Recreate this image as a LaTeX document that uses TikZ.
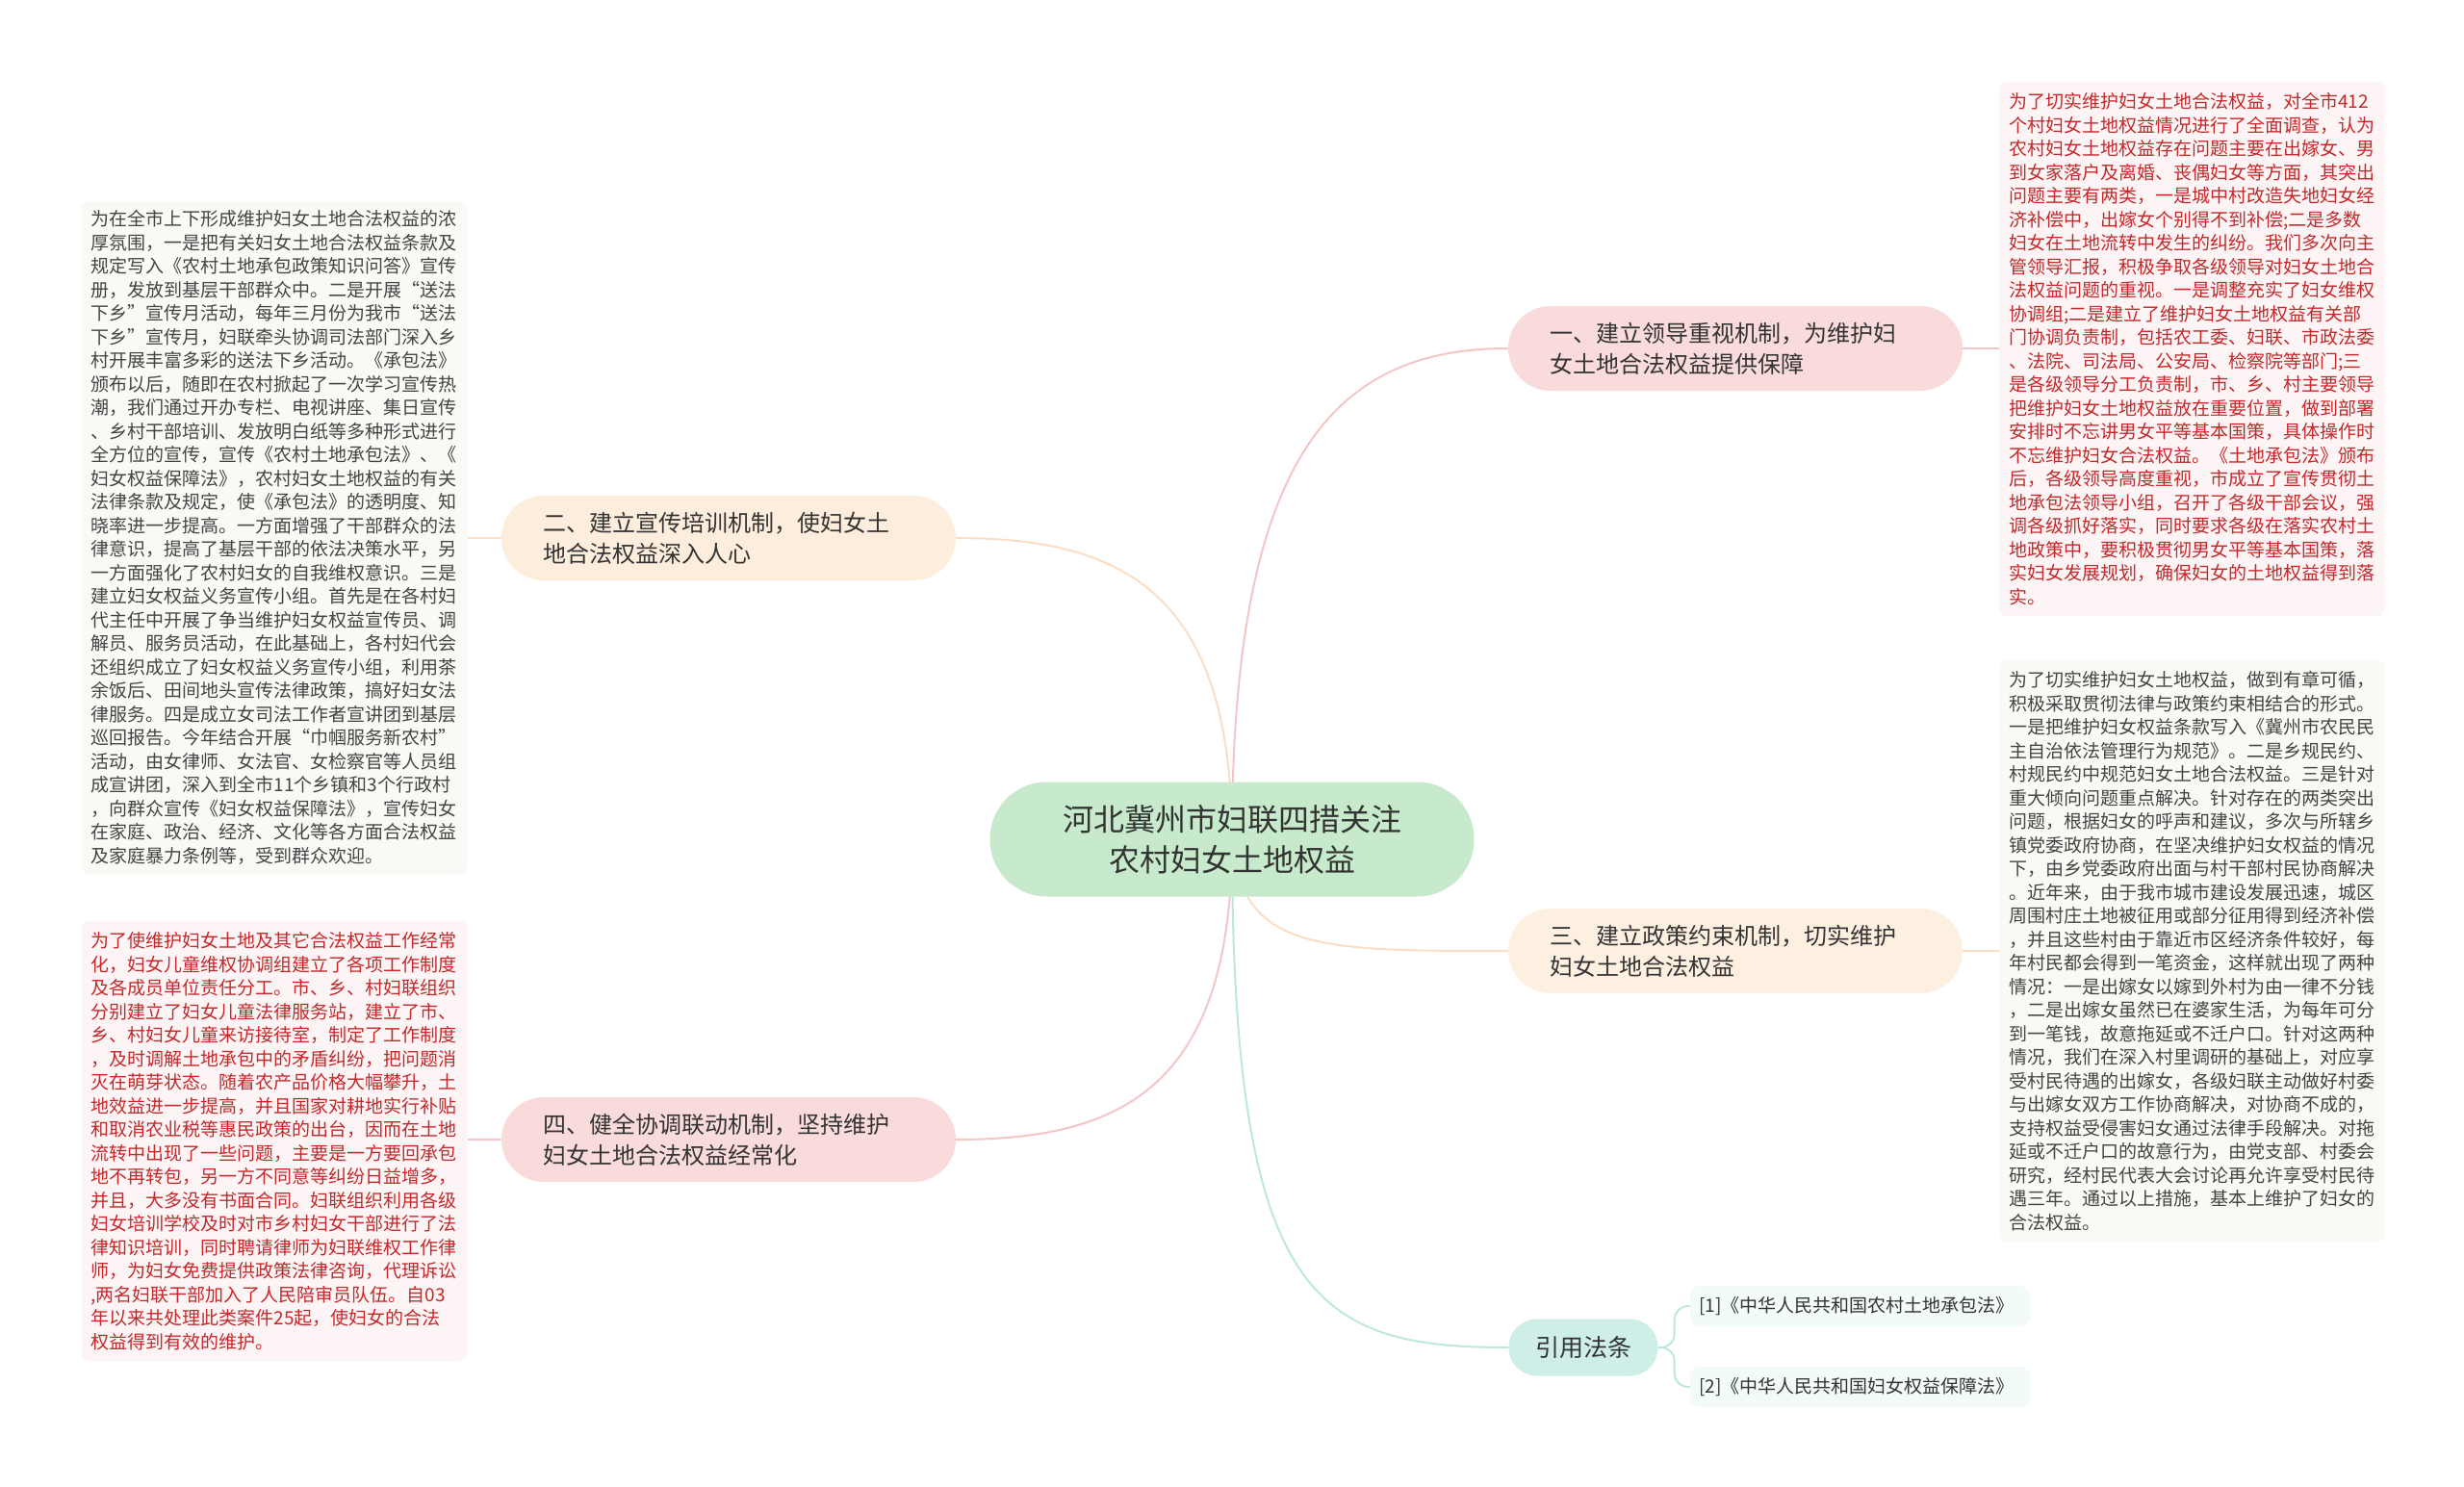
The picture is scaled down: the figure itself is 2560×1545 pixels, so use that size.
\documentclass[tikz,border=0pt]{standalone}
\usepackage{fontspec}
\setmainfont{Noto Sans CJK SC}
\usetikzlibrary{backgrounds}
\definecolor{txt}{HTML}{333333}
\definecolor{centerfill}{HTML}{C6EACB}
\definecolor{pinkfill}{HTML}{FADBDB}
\definecolor{orangefill}{HTML}{FDEDDC}
\definecolor{orangefillb}{HTML}{FDF0E1}
\definecolor{tealfill}{HTML}{CFEEE7}
\definecolor{pinkline}{HTML}{F4C6C7}
\definecolor{orangeline}{HTML}{FADFC6}
\definecolor{tealline}{HTML}{BEE8DF}
\definecolor{redbg}{HTML}{FDF5F5}
\definecolor{graybg}{HTML}{FAF9F6}
\definecolor{redtxt}{HTML}{C4282B}
\definecolor{graytxt}{HTML}{444444}
\definecolor{refbg}{HTML}{F3FAFA}
\tikzset{
  centernode/.style={rectangle, rounded corners=59pt, fill=centerfill, text=txt,
    minimum width=503pt, minimum height=119pt, inner sep=0pt, align=center,
    font=\fontsize{32pt}{42pt}\selectfont},
  branch/.style={rectangle, rounded corners=44pt, text=txt,
    minimum width=472pt, minimum height=88pt, inner sep=0pt, text width=386pt, align=left,
    font=\fontsize{24pt}{32pt}\selectfont},
  refnode/.style={rectangle, rounded corners=29pt, fill=tealfill, text=txt,
    minimum width=155pt, minimum height=59pt, inner sep=0pt,
    font=\fontsize{25pt}{30pt}\selectfont},
  lawbox/.style={rectangle, rounded corners=10pt, fill=refbg, text=txt, anchor=west,
    minimum width=353pt, minimum height=42pt, inner sep=0pt, text width=335pt, align=left,
    font=\fontsize{19pt}{23pt}\selectfont},
  detail/.style={rectangle, rounded corners=8pt, inner sep=0pt, minimum width=401pt,
    text width=381pt, align=left, font=\fontsize{19pt}{24.5pt}\selectfont},
  redbox/.style={detail, fill=redbg, text=redtxt},
  graybox/.style={detail, fill=graybg, text=graytxt},
  conn/.style={line width=2pt},
}
\begin{document}
\begin{tikzpicture}[x=1pt, y=-1pt]
\useasboundingbox (0,0) rectangle (2560,1545);

% central topic
\node[centernode] (c) at (1280,872) {河北冀州市妇联四措关注\\农村妇女土地权益};

% branches
\node[branch, fill=pinkfill] (b1) at (1803,362) {一、建立领导重视机制，为维护妇\\女土地合法权益提供保障};
\node[branch, fill=orangefill] (b2) at (757,559) {二、建立宣传培训机制，使妇女土\\地合法权益深入人心};
\node[branch, fill=orangefillb] (b3) at (1803,988) {三、建立政策约束机制，切实维护\\妇女土地合法权益};
\node[branch, fill=pinkfill] (b4) at (757,1184) {四、健全协调联动机制，坚持维护\\妇女土地合法权益经常化};
\node[refnode] (ref) at (1645,1400) {引用法条};

% detail boxes
\node[redbox, minimum height=555pt] (d1) at (2277.5,362.5) {为了切实维护妇女土地合法权益，对全市412\\个村妇女土地权益情况进行了全面调查，认为\\农村妇女土地权益存在问题主要在出嫁女、男\\到女家落户及离婚、丧偶妇女等方面，其突出\\问题主要有两类，一是城中村改造失地妇女经\\济补偿中，出嫁女个别得不到补偿;二是多数\\妇女在土地流转中发生的纠纷。我们多次向主\\管领导汇报，积极争取各级领导对妇女土地合\\法权益问题的重视。一是调整充实了妇女维权\\协调组;二是建立了维护妇女土地权益有关部\\门协调负责制，包括农工委、妇联、市政法委\\、法院、司法局、公安局、检察院等部门;三\\是各级领导分工负责制，市、乡、村主要领导\\把维护妇女土地权益放在重要位置，做到部署\\安排时不忘讲男女平等基本国策，具体操作时\\不忘维护妇女合法权益。《土地承包法》颁布\\后，各级领导高度重视，市成立了宣传贯彻土\\地承包法领导小组，召开了各级干部会议，强\\调各级抓好落实，同时要求各级在落实农村土\\地政策中，要积极贯彻男女平等基本国策，落\\实妇女发展规划，确保妇女的土地权益得到落\\实。};

\node[graybox, minimum height=699pt] (d2) at (285,558.5) {为在全市上下形成维护妇女土地合法权益的浓\\厚氛围，一是把有关妇女土地合法权益条款及\\规定写入《农村土地承包政策知识问答》宣传\\册，发放到基层干部群众中。二是开展“送法\\下乡”宣传月活动，每年三月份为我市“送法\\下乡”宣传月，妇联牵头协调司法部门深入乡\\村开展丰富多彩的送法下乡活动。《承包法》\\颁布以后，随即在农村掀起了一次学习宣传热\\潮，我们通过开办专栏、电视讲座、集日宣传\\、乡村干部培训、发放明白纸等多种形式进行\\全方位的宣传，宣传《农村土地承包法》、《\\妇女权益保障法》，农村妇女土地权益的有关\\法律条款及规定，使《承包法》的透明度、知\\晓率进一步提高。一方面增强了干部群众的法\\律意识，提高了基层干部的依法决策水平，另\\一方面强化了农村妇女的自我维权意识。三是\\建立妇女权益义务宣传小组。首先是在各村妇\\代主任中开展了争当维护妇女权益宣传员、调\\解员、服务员活动，在此基础上，各村妇代会\\还组织成立了妇女权益义务宣传小组，利用茶\\余饭后、田间地头宣传法律政策，搞好妇女法\\律服务。四是成立女司法工作者宣讲团到基层\\巡回报告。今年结合开展“巾帼服务新农村”\\活动，由女律师、女法官、女检察官等人员组\\成宣讲团，深入到全市11个乡镇和3个行政村\\，向群众宣传《妇女权益保障法》，宣传妇女\\在家庭、政治、经济、文化等各方面合法权益\\及家庭暴力条例等，受到群众欢迎。};

\node[graybox, minimum height=604pt] (d3) at (2277.5,988) {为了切实维护妇女土地权益，做到有章可循，\\积极采取贯彻法律与政策约束相结合的形式。\\一是把维护妇女权益条款写入《冀州市农民民\\主自治依法管理行为规范》。二是乡规民约、\\村规民约中规范妇女土地合法权益。三是针对\\重大倾向问题重点解决。针对存在的两类突出\\问题，根据妇女的呼声和建议，多次与所辖乡\\镇党委政府协商，在坚决维护妇女权益的情况\\下，由乡党委政府出面与村干部村民协商解决\\。近年来，由于我市城市建设发展迅速，城区\\周围村庄土地被征用或部分征用得到经济补偿\\，并且这些村由于靠近市区经济条件较好，每\\年村民都会得到一笔资金，这样就出现了两种\\情况：一是出嫁女以嫁到外村为由一律不分钱\\，二是出嫁女虽然已在婆家生活，为每年可分\\到一笔钱，故意拖延或不迁户口。针对这两种\\情况，我们在深入村里调研的基础上，对应享\\受村民待遇的出嫁女，各级妇联主动做好村委\\与出嫁女双方工作协商解决，对协商不成的，\\支持权益受侵害妇女通过法律手段解决。对拖\\延或不迁户口的故意行为，由党支部、村委会\\研究，经村民代表大会讨论再允许享受村民待\\遇三年。通过以上措施，基本上维护了妇女的\\合法权益。};

\node[redbox, minimum height=457pt] (d4) at (285,1185.5) {为了使维护妇女土地及其它合法权益工作经常\\化，妇女儿童维权协调组建立了各项工作制度\\及各成员单位责任分工。市、乡、村妇联组织\\分别建立了妇女儿童法律服务站，建立了市、\\乡、村妇女儿童来访接待室，制定了工作制度\\，及时调解土地承包中的矛盾纠纷，把问题消\\灭在萌芽状态。随着农产品价格大幅攀升，土\\地效益进一步提高，并且国家对耕地实行补贴\\和取消农业税等惠民政策的出台，因而在土地\\流转中出现了一些问题，主要是一方要回承包\\地不再转包，另一方不同意等纠纷日益增多，\\并且，大多没有书面合同。妇联组织利用各级\\妇女培训学校及时对市乡村妇女干部进行了法\\律知识培训，同时聘请律师为妇联维权工作律\\师，为妇女免费提供政策法律咨询，代理诉讼\\,两名妇联干部加入了人民陪审员队伍。自03\\年以来共处理此类案件25起，使妇女的合法\\权益得到有效的维护。};

% law references
\node[lawbox] (r1) at (1756,1357) {[1]《中华人民共和国农村土地承包法》};
\node[lawbox] (r2) at (1756,1441) {[2]《中华人民共和国妇女权益保障法》};

% background and connectors
\begin{pgfonlayer}{background}
\fill[white] (0,0) rectangle (2560,1545);
\draw[conn, pinkline] (c.center) .. controls +(0,-400) and +(-180,0) .. (b1.west);
\draw[conn, orangeline] (c.center) .. controls +(0,-260) and +(170,0) .. (b2.east);
\draw[conn, orangeline] (c.center) .. controls +(10,116) and +(-200,0) .. (b3.west);
\draw[conn, pinkline] (c.center) .. controls +(0,260) and +(170,0) .. (b4.east);
\draw[conn, tealline] (c.center) .. controls +(0,480) and +(-200,0) .. (ref.west);
\draw[conn, pinkline] (b1.east) -- (b1.east -| d1.west);
\draw[conn, orangeline] (b2.west) -- (b2.west -| d2.east);
\draw[conn, orangeline] (b3.east) -- (b3.east -| d3.west);
\draw[conn, pinkline] (b4.west) -- (b4.west -| d4.east);
\draw[conn, tealline, rounded corners=14pt] (ref.east) -- ++(17,0) |- (r1.west);
\draw[conn, tealline, rounded corners=14pt] (ref.east) -- ++(17,0) |- (r2.west);
\end{pgfonlayer}
\end{tikzpicture}
\end{document}
